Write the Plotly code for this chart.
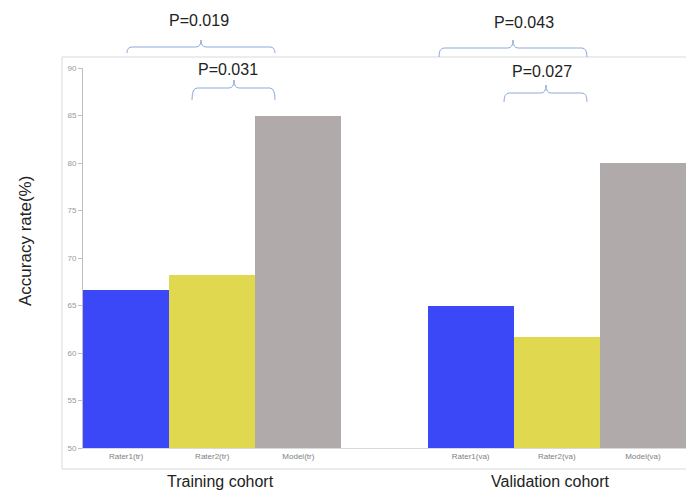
import plotly.graph_objects as go

# --- data ---------------------------------------------------------------
categories = ["Rater1(tr)", "Rater2(tr)", "Model(tr)",
              "Rater1(va)", "Rater2(va)", "Model(va)"]
accuracy = [66.6, 68.2, 85.0, 65.0, 61.7, 80.0]
cohorts = ["Training cohort", "Validation cohort"]
p_labels = ["P=0.019", "P=0.031", "P=0.043", "P=0.027"]
y_ticks = [50, 55, 60, 65, 70, 75, 80, 85, 90]

# --- styling --------------------------------------------------------------
FONT = "Liberation Sans, Arial, sans-serif"
colors = ["#3B48F8", "#E0D84F", "#B0AAAA", "#3B48F8", "#E0D84F", "#B0AAAA"]
BRACE = "#8EA9DB"
FRAME = "#D9D9D9"

# bar slots: one empty slot separates the two cohorts
slots = [0, 1, 2, 4, 5, 6]

fig = go.Figure(go.Bar(
    x=slots, y=accuracy, marker=dict(color=colors, line=dict(width=0)),
    width=1.0, showlegend=False, hoverinfo="skip"))

W, H = 686, 490
ML, MR, MT, MB = 83, 0, 68, 42
PW, PH = W - ML - MR, H - MT - MB
NSLOT = 7


def xd(px):
    """pixel column -> x data units"""
    return (px - ML) / PW * NSLOT - 0.5


def yp(py):
    """pixel row -> paper y"""
    return (H - MB - py) / PH


def brace(x0, x1, xm, yline, yend, ytip):
    r = 0.06  # horizontal rounding in data units
    return (f"M {x0},{yend} Q {x0},{yline} {x0 + r},{yline} "
            f"L {xm - r},{yline} Q {xm},{yline} {xm},{ytip} "
            f"Q {xm},{yline} {xm + r},{yline} "
            f"L {x1 - r},{yline} Q {x1},{yline} {x1},{yend}")


# brackets: (left px, right px, mid px, line row, end row, tip row)
braces = [
    (127, 275, 201, 47, 53, 40),
    (192, 275, 234, 88, 100, 80),
    (439, 587, 513, 48, 57, 40),
    (504, 587, 546, 93, 102, 85),
]
label_pos = [(199, 21), (228, 69), (524, 23), (542, 71)]
cohort_pos = [(220, 481), (550, 481)]

shapes = []
# light frame around the chart body
shapes.append(dict(type="rect", xref="paper", yref="paper",
                   x0=(62 - ML) / PW, x1=1.05, y0=yp(469), y1=yp(57),
                   line=dict(color=FRAME, width=1), layer="below"))
for (a, b, m, yl, ye, yt) in braces:
    shapes.append(dict(type="path", xref="x", yref="paper",
                       path=brace(xd(a), xd(b), xd(m), yp(yl), yp(ye), yp(yt)),
                       line=dict(color=BRACE, width=1)))

annotations = []
for txt, (px, py) in zip(p_labels, label_pos):
    annotations.append(dict(text=txt, x=xd(px), y=yp(py), xref="x", yref="paper",
                            showarrow=False, xanchor="center", yanchor="middle",
                            font=dict(family=FONT, size=16, color="#222222")))
for txt, (px, py) in zip(cohorts, cohort_pos):
    annotations.append(dict(text=txt, x=xd(px), y=yp(py), xref="x", yref="paper",
                            showarrow=False, xanchor="center", yanchor="middle",
                            font=dict(family=FONT, size=16, color="#222222")))
annotations.append(dict(text="Accuracy rate(%)", x=(25 - ML) / PW, y=yp(241),
                        xref="paper", yref="paper", textangle=-90,
                        showarrow=False, xanchor="center", yanchor="middle",
                        font=dict(family=FONT, size=17, color="#222222")))

fig.update_layout(
    width=W, height=H,
    margin=dict(l=ML, r=MR, t=MT, b=MB, pad=0),
    paper_bgcolor="white", plot_bgcolor="white",
    bargap=0,
    shapes=shapes, annotations=annotations,
    xaxis=dict(range=[-0.5, 6.5], tickmode="array", tickvals=slots,
               ticktext=categories, showgrid=False, zeroline=False,
               showline=True, linecolor=FRAME, linewidth=1, ticks="",
               tickfont=dict(family=FONT, size=8, color="#808080"),
               fixedrange=True),
    yaxis=dict(range=[50, 90], tickvals=y_ticks, showgrid=False, zeroline=False,
               showline=True, linecolor="#BFBFBF", linewidth=1,
               ticks="outside", ticklen=4, tickcolor="#BFBFBF",
               tickfont=dict(family=FONT, size=8, color="#999999"),
               fixedrange=True),
)

fig.write_html("out.html")
